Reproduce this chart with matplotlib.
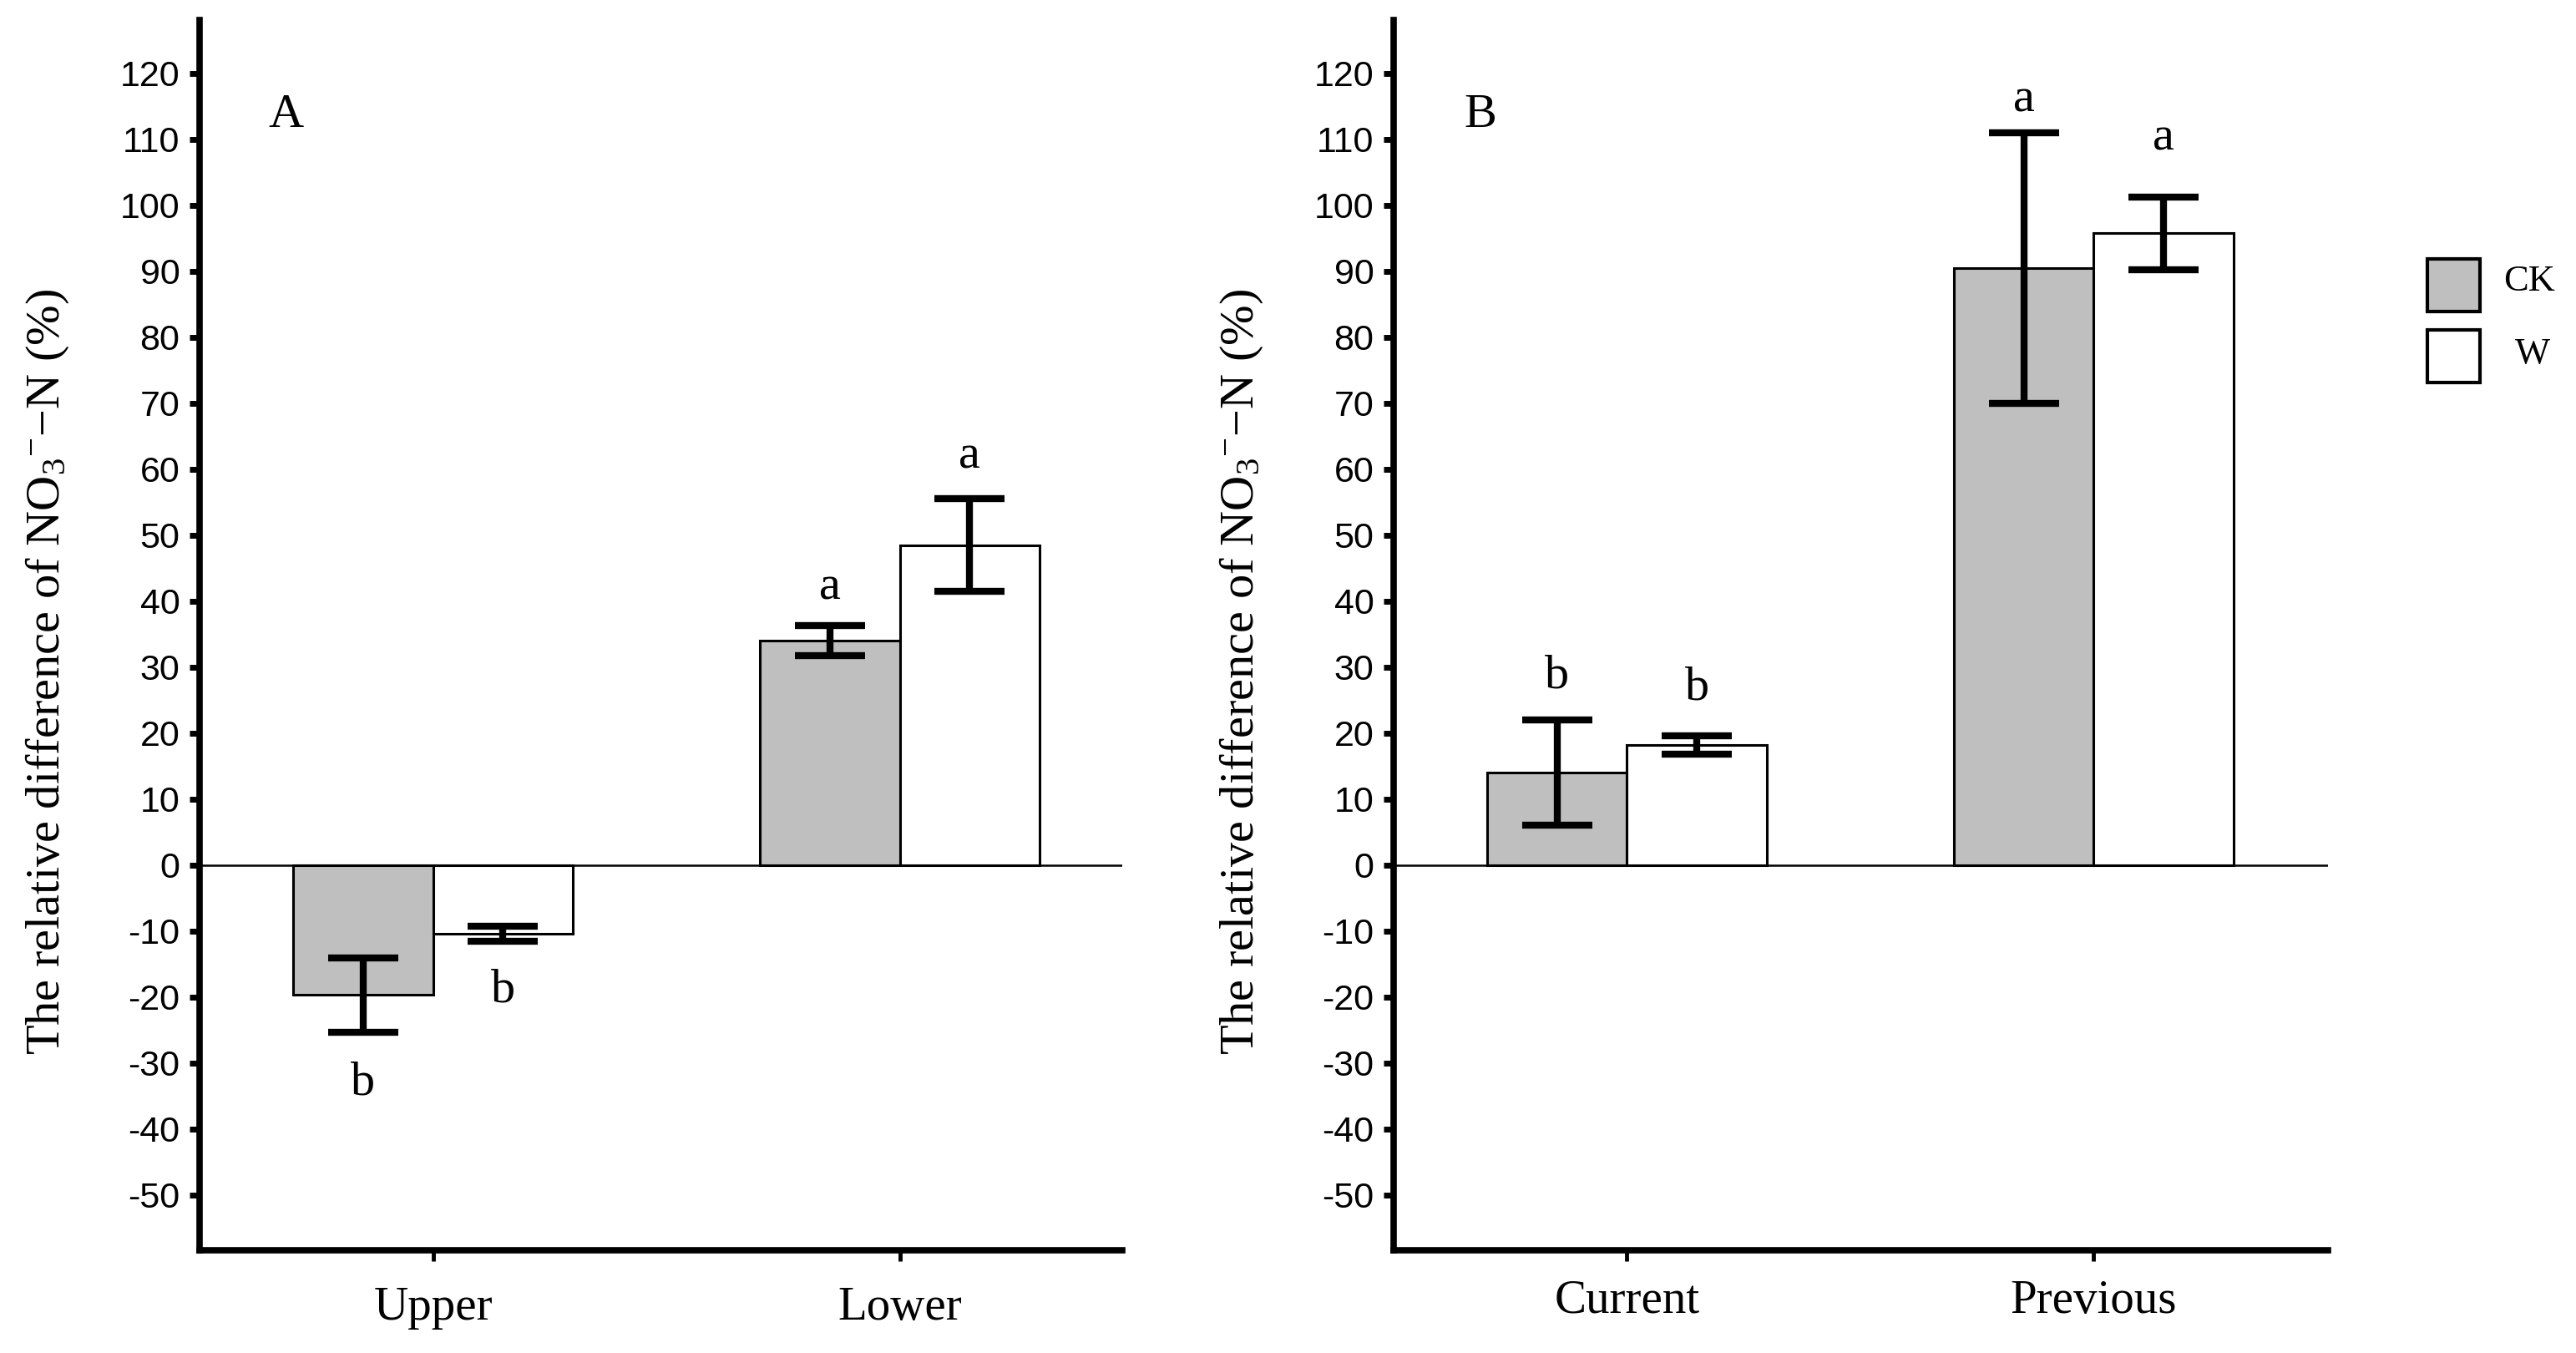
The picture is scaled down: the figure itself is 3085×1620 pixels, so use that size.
import numpy as np
import matplotlib
matplotlib.use('Agg')
import matplotlib.pyplot as plt
from matplotlib.patches import Rectangle

plt.rcParams['mathtext.fontset'] = 'custom'
plt.rcParams['mathtext.rm'] = 'Liberation Serif'
plt.rcParams['mathtext.it'] = 'Liberation Serif:italic'

# panel A data
groups_a = ['Upper', 'Lower']
ck_a = [-19.7, 34.0]
ck_a_err = [5.65, 2.3]
w_a = [-10.4, 48.5]
w_a_err = [1.1, 7.0]
ck_a_letters = ['b', 'a']
w_a_letters = ['b', 'a']
ck_a_letter_y = [-33.0, 42.1]
w_a_letter_y = [-18.9, 61.9]

# panel B data
groups_b = ['Current', 'Previous']
ck_b = [14.0, 90.5]
ck_b_err = [8.0, 20.5]
w_b = [18.2, 95.8]
w_b_err = [1.4, 5.5]
ck_b_letters = ['b', 'a']
w_b_letters = ['b', 'a']
ck_b_letter_y = [28.6, 116.0]
w_b_letter_y = [26.9, 110.2]

yticks = list(range(-50, 121, 10))
serif = 'Liberation Serif'
sans = 'Liberation Sans'
gray = '#bfbfbf'
ylabel = r'The relative difference of NO$_3$$^{-}$' + '\u2212N (%)'

fig = plt.figure(figsize=(30.85, 16.2), dpi=100)


def draw_panel(ax, groups, ck, ck_err, w, w_err, ck_let, w_let, ck_ly, w_ly,
               tag, xmax, xpad, label_x):
    x = np.arange(len(groups))
    bw = 0.3
    ax.axhline(0, color='black', lw=1.8, zorder=1)
    ax.bar(x - bw / 2, ck, bw, color=gray, edgecolor='black', linewidth=2.2, zorder=2)
    ax.bar(x + bw / 2, w, bw, color='white', edgecolor='black', linewidth=2.2, zorder=2)
    ax.errorbar(x - bw / 2, ck, yerr=ck_err, fmt='none', ecolor='black',
                elinewidth=6, capsize=30, capthick=6, zorder=3)
    ax.errorbar(x + bw / 2, w, yerr=w_err, fmt='none', ecolor='black',
                elinewidth=6, capsize=30, capthick=6, zorder=3)
    for i in range(len(groups)):
        ax.text(x[i] - bw / 2, ck_ly[i], ck_let[i], ha='center', va='center',
                fontsize=42, family=serif)
        ax.text(x[i] + bw / 2, w_ly[i], w_let[i], ha='center', va='center',
                fontsize=42, family=serif)
    ax.text(-0.315, 113.7, tag, ha='center', va='center', fontsize=42, family=serif)

    ax.set_xlim(-0.5, xmax)
    ax.set_ylim(-58.4, 128.1)
    ax.set_xticks(x)
    ax.set_xticklabels(groups, family=serif, fontsize=41)
    ax.set_yticks(yticks)
    ax.set_yticklabels([str(v) for v in yticks], family=sans, fontsize=31)
    ax.tick_params(axis='y', direction='out', length=9, width=5, pad=8)
    ax.tick_params(axis='x', direction='out', length=9, width=3.5, pad=xpad)
    for s in ['top', 'right']:
        ax.spines[s].set_visible(False)
    for s in ['left', 'bottom']:
        ax.spines[s].set_linewidth(5.5)
    ax.set_ylabel(ylabel, family=serif, fontsize=42)
    ax.yaxis.set_label_coords(label_x, 0.47)


ax_a = fig.add_axes([0.0775, 0.0759, 0.3582, 0.9093])
draw_panel(ax_a, groups_a, ck_a, ck_a_err, w_a, w_a_err,
           ck_a_letters, w_a_letters, ck_a_letter_y, w_a_letter_y,
           'A', 1.477, 22, -0.139)

ax_b = fig.add_axes([0.5410, 0.0759, 0.3627, 0.9093])
draw_panel(ax_b, groups_b, ck_b, ck_b_err, w_b, w_b_err,
           ck_b_letters, w_b_letters, ck_b_letter_y, w_b_letter_y,
           'B', 1.502, 16, -0.1375)

# legend boxes
fig.add_artist(Rectangle((0.9423, 0.7698), 0.0204, 0.0389, transform=fig.transFigure,
                         facecolor=gray, edgecolor='black', lw=3))
fig.add_artist(Rectangle((0.9423, 0.7173), 0.0204, 0.0389, transform=fig.transFigure,
                         facecolor='white', edgecolor='black', lw=3))
fig.text(0.982, 0.792, 'CK', ha='center', va='center', fontsize=32, family=serif)
fig.text(0.983, 0.738, 'W', ha='center', va='center', fontsize=32, family=serif)

fig.savefig('out.png', dpi=100)
